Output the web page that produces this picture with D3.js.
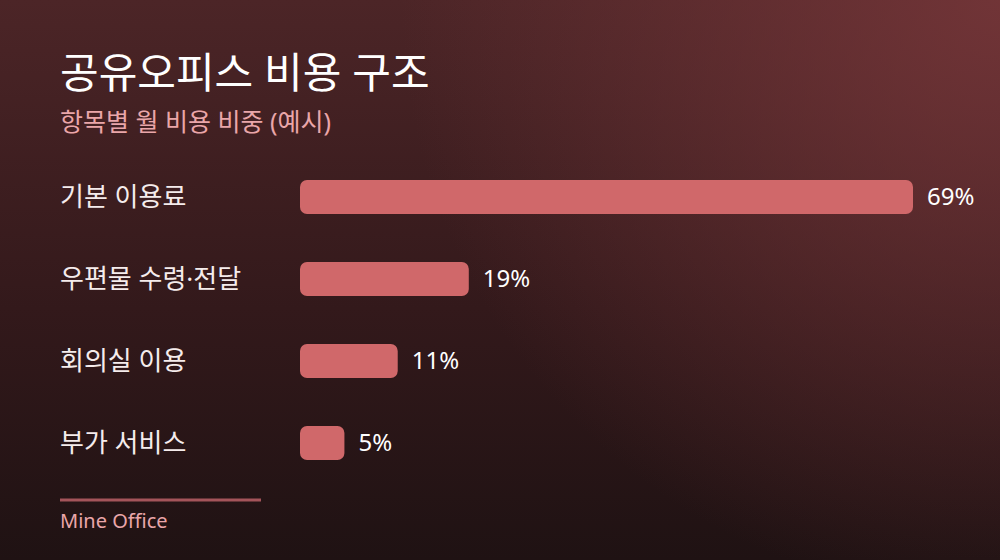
<!DOCTYPE html>
<html><head><meta charset="utf-8">
<script src="https://cdn.jsdelivr.net/npm/d3@7"></script>
<style>html,body{margin:0;padding:0;background:#1f1314;}svg{display:block;}</style>
</head><body>
<svg id="c" width="1000" height="560"></svg>
<script>
const categories = ["기본 이용료", "우편물 수령·전달", "회의실 이용", "부가 서비스"];
const values = [69, 19, 11, 5];
const valueLabels = ["69%", "19%", "11%", "5%"];
const title = "공유오피스 비용 구조";
const subtitle = "항목별 월 비용 비중 (예시)";
const source = "Mine Office";

const W = 1000, H = 560;
const svg = d3.select("#c");
const font = "'Noto Sans','Noto Sans CJK KR',sans-serif";

const defs = svg.append("defs");
const lg = defs.append("linearGradient").attr("id","bgl").attr("x1",0).attr("y1",0).attr("x2",0).attr("y2",1);
lg.append("stop").attr("offset","0%").attr("stop-color","#4c2527");
lg.append("stop").attr("offset","55%").attr("stop-color","#33191b");
lg.append("stop").attr("offset","100%").attr("stop-color","#1f1213");
const rg = defs.append("radialGradient").attr("id","bgr").attr("gradientUnits","userSpaceOnUse")
  .attr("cx",1000).attr("cy",0).attr("r",600);
rg.append("stop").attr("offset","0%").attr("stop-color","#7a383b").attr("stop-opacity",0.8);
rg.append("stop").attr("offset","100%").attr("stop-color","#7a383b").attr("stop-opacity",0);
svg.append("rect").attr("width",W).attr("height",H).attr("fill","url(#bgl)");
svg.append("rect").attr("width",W).attr("height",H).attr("fill","url(#bgr)");

svg.append("text").attr("x",60).attr("y",88).attr("fill","#ffffff")
  .attr("font-family",font).attr("font-size",42).attr("font-weight",400).text(title);
svg.append("text").attr("x",60).attr("y",131).attr("fill","#eaa6a9")
  .attr("font-family",font).attr("font-size",25).text(subtitle);

const x = d3.scaleLinear().domain([0, d3.max(values)]).range([300, 913]);
const y = d3.scaleBand().domain(categories).range([180, 460]).paddingInner(48/82).paddingOuter(0);

const g = svg.append("g");
categories.forEach((c,i)=>{
  const yy = y(c), bh = y.bandwidth();
  g.append("rect").attr("x",x(0)).attr("y",yy).attr("width",x(values[i])-x(0)).attr("height",bh)
    .attr("rx",7).attr("fill","#d0686a");
  g.append("text").attr("x",60).attr("y",yy+bh/2).attr("dy","0.35em").attr("fill","#f5ecec")
    .attr("font-family",font).attr("font-size",26).text(c);
  g.append("text").attr("x",x(values[i])+14).attr("y",yy+bh/2).attr("dy","0.35em").attr("fill","#ffffff")
    .attr("font-family",font).attr("font-size",24).text(valueLabels[i]);
});

svg.append("line").attr("x1",60).attr("x2",261).attr("y1",500).attr("y2",500)
  .attr("stroke","#a4545a").attr("stroke-width",3);
svg.append("text").attr("x",60).attr("y",528).attr("fill","#eaa6a9")
  .attr("font-family",font).attr("font-size",20).text(source);
</script>
</body></html>
